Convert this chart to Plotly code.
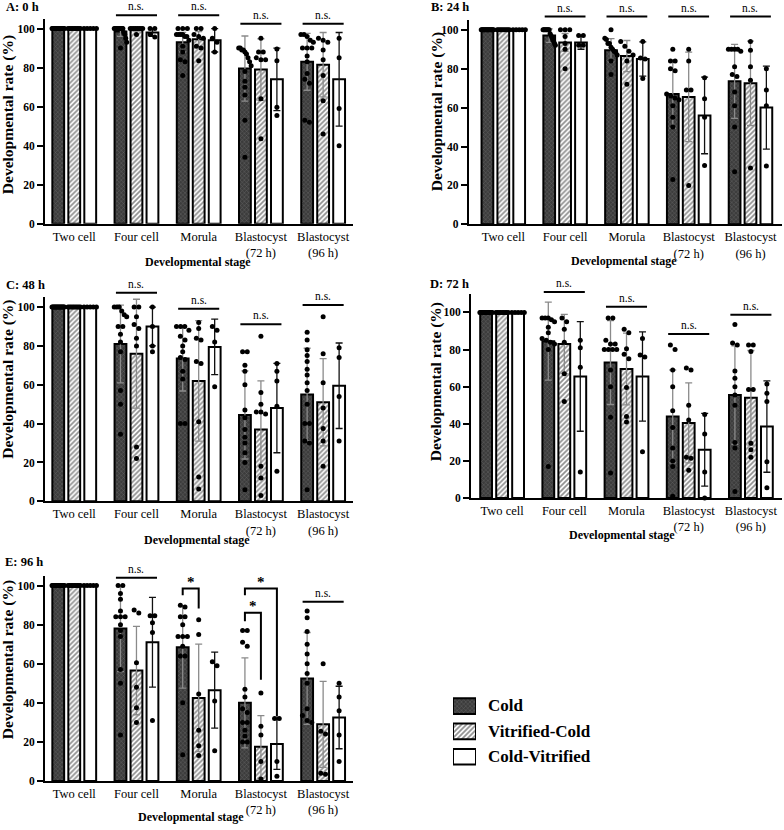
import plotly.graph_objects as go

# ---------------- data ----------------
stages = ["Two cell", "Four cell", "Morula", "Blastocyst<br>(72 h)", "Blastocyst<br>(96 h)"]
groups = ["Cold", "Vitrified-Cold", "Cold-Vitrified"]
panel_titles = ["A: 0 h", "B: 24 h", "C: 48 h", "D: 72 h", "E: 96 h"]
y_ticks = [0, 20, 40, 60, 80, 100]

# means / SD per group (order of stages)
mean_0h_cold = [100, 98.5, 93, 79.5, 83]
mean_0h_vit = [100, 99.7, 94.5, 79, 81.5]
mean_0h_cv = [100, 98, 94, 74, 74]
sd_0h_cold = [0, 2.5, 5, 16.7, 14.6]
sd_0h_vit = [0, 1, 4, 15.8, 16.5]
sd_0h_cv = [0, 2, 6, 16, 24]

mean_24h_cold = [100, 97, 89.5, 67, 73.5]
mean_24h_vit = [100, 93.5, 86.5, 65.5, 72.5]
mean_24h_cv = [100, 93.5, 85, 56, 60]
sd_24h_cold = [0, 3.5, 6, 17.5, 19]
sd_24h_vit = [0, 4.6, 8, 23, 21.7]
sd_24h_cv = [0, 3.5, 8.8, 19.7, 21.3]

mean_48h_cold = [100, 81, 73.5, 44.5, 55]
mean_48h_vit = [100, 76, 62, 37, 51]
mean_48h_cv = [100, 90, 79.5, 48, 59.5]
sd_48h_cold = [0, 20, 16.7, 22.7, 23.8]
sd_48h_vit = [0, 28, 31, 25, 22.5]
sd_48h_cv = [0, 10, 14.3, 23, 22]

mean_72h_cold = [100, 84.5, 73, 44, 55.5]
mean_72h_vit = [100, 83, 69.5, 40.5, 54]
mean_72h_cv = [100, 65.5, 65.5, 26, 38.5]
sd_72h_cold = [0, 21, 22.6, 25, 26.5]
sd_72h_vit = [0, 16, 19.3, 21.5, 25.5]
sd_72h_cv = [0, 29.5, 24, 19.6, 24.6]

mean_96h_cold = [100, 78, 68.5, 40, 52.5]
mean_96h_vit = [100, 56.5, 42.5, 17.5, 29]
mean_96h_cv = [100, 71, 46.5, 19, 32.5]
sd_96h_cold = [0, 22, 21, 23, 23.5]
sd_96h_vit = [0, 22.6, 27.5, 16, 22]
sd_96h_cv = [0, 23, 19.4, 13, 16]

# individual replicate values (one list per stage)
pts_0h_cold = [[100] * 16,
               [100] * 10 + [98, 97, 95, 93, 90],
               [100, 100, 100, 97, 97, 97, 97, 96, 96, 94, 91, 88, 84, 83, 76],
               [90, 90, 89, 89, 88, 87, 85, 83, 81, 78, 73, 70, 66, 53, 34],
               [97, 97, 96, 94, 93, 90, 90, 90, 86, 83, 77, 74, 72, 53, 52]]
pts_0h_vit = [[100] * 9,
              [100] * 8 + [97],
              [100, 100, 97, 96, 95, 91, 90, 83.5],
              [95, 88, 88, 85, 84, 84, 64, 43.5],
              [95, 94, 93, 89, 84, 76, 63, 46]]
pts_0h_cv = [[100] * 5,
             [100, 100, 97, 95.7],
             [100, 95, 93, 88],
             [89.5, 83.5, 59.7, 55.4],
             [95, 85, 59, 40]]

pts_24h_cold = [[100] * 16,
                [100] * 8 + [98, 97, 96, 95, 94, 93, 92],
                [100, 95.6, 95, 93, 93, 91, 90, 89, 88.4, 87, 84, 77],
                [90, 84, 84, 80, 79, 67, 66, 65, 64, 61, 55, 50, 23],
                [90, 90, 90, 90, 89, 81, 77, 76, 68, 61, 50, 27]]
pts_24h_vit = [[100] * 9,
               [100, 100, 100, 96.6, 93, 90, 80],
               [94, 91.5, 89, 87, 84, 72],
               [90, 84, 69, 69, 20],
               [94, 89.5, 81, 74, 29]]
pts_24h_cv = [[100] * 5,
              [97, 97, 92, 92],
              [94, 85.5, 85, 75],
              [75.3, 64.6, 55, 30.3],
              [80, 69, 61, 30]]

pts_48h_cold = [[100] * 16,
                [100, 100, 100, 98, 96, 95, 90, 90, 86, 82, 77, 57, 50, 34.5],
                [90, 90, 90, 88, 85, 83, 80, 77, 74, 73, 67, 63, 40, 40],
                [77, 77, 70, 67, 60, 47, 43, 37, 33, 30, 25, 20, 6],
                [87, 83, 78, 75, 72, 68, 65, 61, 57, 50, 40, 40, 31, 30, 6]]
pts_48h_vit = [[100] * 9,
               [100, 100, 95, 91, 89, 84, 80, 28, 22],
               [92, 89, 84, 83, 72, 71, 41, 12.5, 6.3],
               [85, 56, 50, 46, 46, 45, 18, 12, 3],
               [95, 76, 61, 48, 37.5, 31, 18]]
pts_48h_cv = [[100] * 5,
              [100, 90, 80, 77],
              [90, 88, 82, 59],
              [71, 67, 62, 49, 15.5],
              [79, 74, 54, 31]]

pts_72h_cold = [[100] * 16,
                [97, 97, 97, 96, 95, 92, 89, 86, 85, 84, 83, 80, 17],
                [97, 97, 85, 83, 83, 80, 80, 80, 80, 69, 60, 43.5, 13.5],
                [82.5, 80, 69, 60, 47, 38, 27, 20, 17, 1],
                [93.5, 83.5, 82.5, 68.5, 64.5, 60, 55.5, 50, 30, 27, 3.5]]
pts_72h_vit = [[100] * 9,
               [97, 95, 91, 84, 67, 52],
               [91, 89, 80.5, 77.5, 75, 59.5, 44, 41],
               [70, 69, 50, 42, 22, 21.5, 15],
               [82.5, 82.5, 79, 58.5, 58.5, 29.5, 26, 22]]
pts_72h_cv = [[100] * 5,
              [85, 81, 70.5, 14],
              [86, 77, 76, 25],
              [45, 34.5, 14, 0],
              [61.5, 56.5, 52, 19.5, 5.5]]

pts_96h_cold = [[100] * 16,
                [100, 100, 96, 93, 87, 84, 84, 84, 80, 77, 74, 57, 50, 23.5],
                [90, 89, 84, 84, 80, 74, 74, 74, 69, 64, 64, 40, 13.5],
                [77, 77, 71, 69, 47, 43, 37, 35, 30, 30, 26, 23, 20, 20],
                [87, 83.5, 76.5, 70, 65, 60, 55, 50, 37, 33.5, 31, 30]]
pts_96h_vit = [[100] * 9,
               [87.5, 86, 60.5, 48, 37.5, 30],
               [82.5, 75, 44.5, 26, 18, 13],
               [45, 28, 23.5, 10, 1],
               [60, 25.5, 24, 4, 3.5]]
pts_96h_cv = [[100] * 5,
              [84.5, 84.5, 81, 76, 31],
              [61, 59, 41, 15.5],
              [32, 32, 10, 2.5],
              [50, 43, 36, 23.5, 10]]

# significance: (stage index, line height)
ns_0h = [(1, 106.8), (2, 106.8), (3, 102.5), (4, 102.5)]
ns_24h = [(1, 106.8), (2, 106.8), (3, 106.8), (4, 106.8)]
ns_48h = [(1, 107.3), (2, 99.1), (3, 91.1), (4, 101)]
ns_72h = [(1, 111), (2, 103), (3, 88.4), (4, 98.75)]
ns_96h = [(1, 104), (4, 91.7)]
# brackets: (stage, group a, group b, top, left leg end, right leg end)
star_96h = [(2, 0, 1, 98.5, 95, 88.3), (3, 0, 2, 98.5, 95, 33), (3, 0, 1, 86.1, 81.8, 51.8)]

# ---------------- styling / layout ----------------
W, H = 784, 830
FONT = "'Liberation Serif', 'Times New Roman', Times, 'DejaVu Serif', serif"


def fx(p):
    return p / W


def fy(p):
    return 1 - p / H


panels = [
    dict(xd=(45, 353), yd=(19, 225.3), yr=105, xr=(-0.47, 4.48),
         means=[mean_0h_cold, mean_0h_vit, mean_0h_cv], sds=[sd_0h_cold, sd_0h_vit, sd_0h_cv],
         pts=[pts_0h_cold, pts_0h_vit, pts_0h_cv], ns=ns_0h, stars=[],
         title=(4, 7), ytitle=(8, 116), xtitle=(198, 264)),
    dict(xd=(468.7, 782), yd=(20.2, 226), yr=105, xr=(-0.56, 4.51),
         means=[mean_24h_cold, mean_24h_vit, mean_24h_cv], sds=[sd_24h_cold, sd_24h_vit, sd_24h_cv],
         pts=[pts_24h_cold, pts_24h_vit, pts_24h_cv], ns=ns_24h, stars=[],
         title=(429, 7.3), ytitle=(437, 113), xtitle=(624, 263)),
    dict(xd=(45, 353), yd=(299.5, 505), yr=105, xr=(-0.47, 4.48),
         means=[mean_48h_cold, mean_48h_vit, mean_48h_cv], sds=[sd_48h_cold, sd_48h_vit, sd_48h_cv],
         pts=[pts_48h_cold, pts_48h_vit, pts_48h_cv], ns=ns_48h, stars=[],
         title=(3.5, 287.3), ytitle=(8, 382.5), xtitle=(197, 544)),
    dict(xd=(471, 782), yd=(296, 501.7), yr=110, xr=(-0.5, 4.5),
         means=[mean_72h_cold, mean_72h_vit, mean_72h_cv], sds=[sd_72h_cold, sd_72h_vit, sd_72h_cv],
         pts=[pts_72h_cold, pts_72h_vit, pts_72h_cv], ns=ns_72h, stars=[],
         title=(428, 285.7), ytitle=(436, 385), xtitle=(622, 539)),
    dict(xd=(45, 353), yd=(580, 786.7), yr=105, xr=(-0.47, 4.48),
         means=[mean_96h_cold, mean_96h_vit, mean_96h_cv], sds=[sd_96h_cold, sd_96h_vit, sd_96h_cv],
         pts=[pts_96h_cold, pts_96h_vit, pts_96h_cv], ns=ns_96h, stars=star_96h,
         title=(3, 565.7), ytitle=(8, 665), xtitle=(191, 823)),
]

OFF = [-0.257, 0.0, 0.257]
BW = 0.19
patterns = [
    dict(color="#3c3c3c", pattern=dict(shape="x", fgcolor="#9a9a9a", bgcolor="#3c3c3c", size=3, solidity=0.25)),
    dict(color="#ffffff", pattern=dict(shape="/", fgcolor="#222222", bgcolor="#ffffff", size=3.5, solidity=0.5)),
    dict(color="#ffffff", pattern=None),
]
err_colors = ["#8a8a8a", "#8a8a8a", "#111111"]


def jitter(values, center):
    vals = sorted(values, reverse=True)
    xs, ys = [], []
    clusters = []
    for v in vals:
        if clusters and clusters[-1][-1] - v < 2.6:
            clusters[-1].append(v)
        else:
            clusters.append([v])
    for c in clusters:
        n = len(c)
        dx = 0.075 if n <= 1 else min(0.075, 0.2 / (n - 1))
        for j, v in enumerate(c):
            xs.append(center + (j - (n - 1) / 2) * dx)
            ys.append(v)
    return xs, ys


def axname(n):
    return ("x", "y") if n == 1 else (f"x{n}", f"y{n}")


fig = go.Figure()
layout = dict()
annotations = []
shapes = []

for pi, P in enumerate(panels):
    n = pi + 1
    xa, ya = axname(n)
    sfx = "" if n == 1 else str(n)
    for k in range(3):
        mk = dict(color=patterns[k]["color"], line=dict(color="black", width=2))
        if patterns[k]["pattern"]:
            mk["pattern"] = patterns[k]["pattern"]
        fig.add_trace(go.Bar(
            x=[i + OFF[k] for i in range(5)], y=P["means"][k], width=BW,
            marker=mk, name=groups[k], showlegend=False,
            error_y=dict(type="data", array=P["sds"][k], color=err_colors[k],
                         thickness=1.3, width=3.5, visible=True),
            xaxis=xa, yaxis=ya))
    for k in range(3):
        px_, py_ = [], []
        for i in range(5):
            xs, ys = jitter(P["pts"][k][i], i + OFF[k])
            px_ += xs
            py_ += ys
        fig.add_trace(go.Scatter(
            x=px_, y=py_, mode="markers", marker=dict(size=5, color="black"),
            showlegend=False, cliponaxis=False, hoverinfo="skip",
            xaxis=xa, yaxis=ya))

    layout[f"xaxis{sfx}"] = dict(
        domain=[fx(P["xd"][0]), fx(P["xd"][1])], range=list(P["xr"]), anchor=ya,
        tickvals=list(range(5)), ticktext=stages, ticks="", showline=True,
        linewidth=2, linecolor="black", showgrid=False, zeroline=False,
        tickfont=dict(family=FONT, size=12.5, color="black"), fixedrange=True)
    layout[f"yaxis{sfx}"] = dict(
        domain=[fy(P["yd"][1]), fy(P["yd"][0])], range=[0, P["yr"]], anchor=xa,
        tickvals=y_ticks, ticks="outside", ticklen=6, tickwidth=2, tickcolor="black",
        showline=True, linewidth=2, linecolor="black", showgrid=False, zeroline=False,
        tickfont=dict(family=FONT, size=11.5, color="black", weight="bold"), fixedrange=True)

    yr = P["yr"]
    for (i, h) in P["ns"]:
        shapes.append(dict(type="line", xref=xa, yref=f"{ya} domain",
                           x0=i - 0.33, x1=i + 0.33, y0=h / yr, y1=h / yr,
                           line=dict(color="black", width=2)))
        annotations.append(dict(text="n.s.", xref=xa, yref=f"{ya} domain", x=i, y=(h + 4.6) / yr,
                                showarrow=False, xanchor="center", yanchor="middle",
                                font=dict(family=FONT, size=11.5, color="black")))
    for (i, a, b, top, la, lb) in P["stars"]:
        xa0, xb0 = i + OFF[a], i + OFF[b]
        shapes.append(dict(type="path", xref=xa, yref=f"{ya} domain",
                           path=f"M{xa0},{la / yr} L{xa0},{top / yr} L{xb0},{top / yr} L{xb0},{lb / yr}",
                           line=dict(color="black", width=2)))
        annotations.append(dict(text="<b>*</b>", xref=xa, yref=f"{ya} domain", x=(xa0 + xb0) / 2,
                                y=(top + 3.2) / yr, showarrow=False, xanchor="center", yanchor="middle",
                                font=dict(family=FONT, size=15, color="black")))

    annotations.append(dict(text=f"<b>{panel_titles[pi]}</b>", xref="paper", yref="paper",
                            x=fx(P["title"][0]), y=fy(P["title"][1]), xanchor="left", yanchor="middle",
                            showarrow=False, font=dict(family=FONT, size=12.5, color="black")))
    annotations.append(dict(text="<b>Developmental rate (%)</b>", xref="paper", yref="paper",
                            x=fx(P["ytitle"][0]), y=fy(P["ytitle"][1]), textangle=-90,
                            xanchor="center", yanchor="middle", showarrow=False,
                            font=dict(family=FONT, size=15.5, color="black")))
    annotations.append(dict(text="<b>Developmental stage</b>", xref="paper", yref="paper",
                            x=fx(P["xtitle"][0]), y=fy(P["xtitle"][1]),
                            xanchor="center", yanchor="middle", showarrow=False,
                            font=dict(family=FONT, size=12, color="black")))

# ---------- legend (drawn as a small key) ----------
for k in range(3):
    mk = dict(color=patterns[k]["color"], line=dict(color="black", width=2))
    if patterns[k]["pattern"]:
        mk["pattern"] = patterns[k]["pattern"]
    fig.add_trace(go.Bar(x=[1], y=[k], orientation="h", width=0.62, marker=mk,
                         name=groups[k], showlegend=False, hoverinfo="skip",
                         xaxis="x6", yaxis="y6"))
layout["xaxis6"] = dict(domain=[fx(453), fx(476)], range=[0, 1], visible=False, fixedrange=True,
                        anchor="y6")
layout["yaxis6"] = dict(domain=[fy(775), fy(698.5)], range=[2.5, -0.5], visible=False,
                        anchor="x6", fixedrange=True)
leg_rows = [711, 736.5, 762]
for k in range(3):
    annotations.append(dict(text=f"<b>{groups[k]}</b>", xref="paper", yref="paper",
                            x=fx(486), y=fy(leg_rows[k]), xanchor="left", yanchor="middle",
                            showarrow=False, font=dict(family=FONT, size=17, color="black")))

fig.update_layout(
    width=W, height=H, margin=dict(l=0, r=0, t=0, b=0),
    paper_bgcolor="white", plot_bgcolor="white", barmode="overlay",
    font=dict(family=FONT, color="black"),
    showlegend=False, annotations=annotations, shapes=shapes, **layout)

fig.write_html("out.html", config={"displayModeBar": False, "staticPlot": True},
               post_script="document.body.style.margin='0';document.body.style.overflow='hidden';")
